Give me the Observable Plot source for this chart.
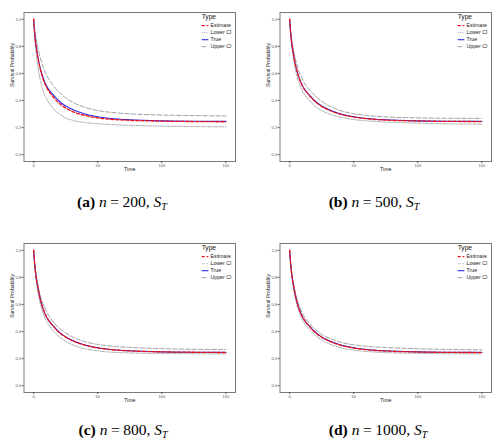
<!DOCTYPE html>
<html><head><meta charset="utf-8">
<script src="https://cdn.jsdelivr.net/npm/d3@7"></script>
<script src="https://cdn.jsdelivr.net/npm/@observablehq/plot@0.6"></script>
<style>
body{margin:0;background:#fff;}
#root{position:relative;width:497px;height:440px;overflow:hidden;background:#fff;}
.panel{position:absolute;}
.cap{position:absolute;font-family:"Liberation Serif","Times New Roman",serif;font-size:15.5px;white-space:nowrap;transform:translateX(-50%);line-height:1;color:#000;}
.cap i{font-style:italic;}
.cap .eq{margin:0 3.5px;}
.cap sub{font-size:10px;font-style:italic;vertical-align:-3px;line-height:0;}
</style></head><body><div id="root"></div>
<script>
// ---- data ----
const times = [0, 1, 2, 3, 5, 7.5, 10, 15, 20, 25, 30, 40, 50, 60, 75, 100, 125, 150];
const trueS = [1.0, 0.88, 0.80, 0.74, 0.645, 0.565, 0.51, 0.445, 0.395, 0.36, 0.335, 0.30, 0.28, 0.268, 0.258, 0.25, 0.247, 0.246];

const estA = [1.0, 0.875, 0.795, 0.735, 0.64, 0.555, 0.50, 0.43, 0.38, 0.345, 0.32, 0.29, 0.272, 0.262, 0.254, 0.248, 0.245, 0.243];
const lowA = [1.0, 0.85, 0.75, 0.67, 0.56, 0.47, 0.415, 0.345, 0.30, 0.272, 0.255, 0.238, 0.229, 0.223, 0.217, 0.211, 0.208, 0.206];
const upA  = [1.0, 0.92, 0.855, 0.805, 0.725, 0.645, 0.59, 0.515, 0.46, 0.42, 0.39, 0.35, 0.326, 0.313, 0.302, 0.293, 0.289, 0.286];

const estB = [1.0, 0.88, 0.80, 0.74, 0.645, 0.565, 0.508, 0.442, 0.392, 0.357, 0.332, 0.297, 0.278, 0.266, 0.256, 0.249, 0.246, 0.245];
const lowB = [1.0, 0.86, 0.775, 0.71, 0.607, 0.528, 0.47, 0.405, 0.358, 0.326, 0.304, 0.276, 0.26, 0.25, 0.241, 0.233, 0.228, 0.225];
const upB  = [1.0, 0.90, 0.83, 0.775, 0.69, 0.61, 0.555, 0.485, 0.435, 0.395, 0.365, 0.325, 0.303, 0.29, 0.279, 0.272, 0.269, 0.268];

const estC = [1.0, 0.882, 0.80, 0.742, 0.646, 0.566, 0.51, 0.444, 0.394, 0.359, 0.334, 0.299, 0.279, 0.267, 0.257, 0.25, 0.247, 0.245];
const lowC = [1.0, 0.865, 0.78, 0.715, 0.615, 0.535, 0.478, 0.41, 0.362, 0.328, 0.304, 0.272, 0.257, 0.248, 0.242, 0.238, 0.236, 0.235];
const upC  = [1.0, 0.895, 0.82, 0.765, 0.675, 0.60, 0.55, 0.475, 0.425, 0.39, 0.362, 0.325, 0.305, 0.293, 0.283, 0.274, 0.269, 0.267];

const estD = [1.0, 0.88, 0.80, 0.741, 0.645, 0.565, 0.509, 0.443, 0.393, 0.358, 0.333, 0.298, 0.278, 0.266, 0.256, 0.249, 0.246, 0.245];
const lowD = [1.0, 0.868, 0.785, 0.722, 0.622, 0.543, 0.487, 0.42, 0.372, 0.338, 0.313, 0.28, 0.263, 0.253, 0.245, 0.239, 0.236, 0.235];
const upD  = [1.0, 0.893, 0.815, 0.76, 0.668, 0.59, 0.535, 0.465, 0.415, 0.38, 0.355, 0.32, 0.302, 0.291, 0.282, 0.273, 0.268, 0.265];

const types = ["Estimate", "Lower CI", "True", "Upper CI"];
const xTicks = [0, 50, 100, 150];
const yTicks = [0, 0.2, 0.4, 0.6, 0.8, 1.0];
const panelsInfo = [
  {letter: "a", n: "200", est: estA, low: lowA, up: upA},
  {letter: "b", n: "500", est: estB, low: lowB, up: upB},
  {letter: "c", n: "800", est: estC, low: lowC, up: upC},
  {letter: "d", n: "1000", est: estD, low: lowD, up: upD}
];

// ---- styles ----
const STYLE = {
  "Estimate": {color: "#ee1111", width: 1.3, dash: "3,2"},
  "Lower CI": {color: "#a0a0a0", width: 1.0, dash: "1,1.4"},
  "True":     {color: "#2a2ae6", width: 1.1, dash: null},
  "Upper CI": {color: "#a0a0a0", width: 1.0, dash: "4.5,2"}
};
const drawOrder = ["Upper CI", "Lower CI", "True", "Estimate"];
const layout = [
  {left: 0, top: 0, capX: 122, capY: 194},
  {left: 255.5, top: 0, capX: 374, capY: 194},
  {left: 0, top: 231.3, capX: 123, capY: 422},
  {left: 255.5, top: 231.3, capX: 378, capY: 422}
];
const W = 240, H = 176, ML = 23.5, MR = 5, MT = 12, MB = 15;
const SANS = "'Liberation Sans', Arial, Helvetica, sans-serif";

const root = document.getElementById("root");

panelsInfo.forEach((p, k) => {
  const L = layout[k];
  const seriesMap = {"Estimate": p.est, "Lower CI": p.low, "True": trueS, "Upper CI": p.up};
  const marks = [];
  for (const tp of drawOrder) {
    const st = STYLE[tp];
    const data = times.map((t, i) => ({time: t, value: seriesMap[tp][i], type: tp}));
    marks.push(Plot.line(data, {
      x: "time", y: "value", stroke: st.color, strokeWidth: st.width,
      strokeDasharray: st.dash ?? undefined, curve: "monotone-x"
    }));
  }
  marks.push(Plot.frame({stroke: "#7a7a7a", strokeWidth: 1}));
  marks.push(Plot.axisX({ticks: xTicks, tickSize: 2, tickPadding: 1, fontSize: 4, color: "#555", label: null, tickFormat: d3.format("d")}));
  marks.push(Plot.axisY({ticks: yTicks, tickSize: 2, tickPadding: 1, fontSize: 4, color: "#555", label: null, tickFormat: d3.format(".1f")}));
  marks.push(Plot.text(["Time"], {frameAnchor: "bottom", dy: 9.5, fontSize: 5.2, fill: "#222"}));
  marks.push(Plot.text(["Survival Probability"], {frameAnchor: "left", rotate: -90, dx: -11.5, fontSize: 5.2, fill: "#222"}));

  const svg = Plot.plot({
    width: W, height: H,
    marginLeft: ML, marginRight: MR, marginTop: MT, marginBottom: MB,
    x: {domain: [-7.5, 157.5]},
    y: {domain: [-0.05, 1.05]},
    style: {fontFamily: SANS, background: "white", overflow: "visible"},
    marks
  });

  // legend inside panel (top-right)
  const fr = W - MR;
  const g = d3.select(svg).append("g").attr("font-family", SANS).attr("text-anchor", "start");
  g.append("text").attr("x", fr - 33.3).attr("y", MT + 5.3).attr("text-anchor", "start")
    .attr("dominant-baseline", "middle").attr("font-size", 6.6).attr("fill", "#111").text("Type");
  types.forEach((tp, i) => {
    const st = STYLE[tp];
    const y = MT + 13.7 + i * 7;
    g.append("line").attr("x1", fr - 33.3).attr("x2", fr - 26.6).attr("y1", y).attr("y2", y)
      .attr("stroke", st.color).attr("stroke-width", st.width)
      .attr("stroke-dasharray", st.dash ?? null);
    g.append("text").attr("x", fr - 24.4).attr("y", y).attr("text-anchor", "start")
      .attr("dominant-baseline", "middle").attr("font-size", 5.2).attr("fill", "#222").text(tp);
  });

  const div = document.createElement("div");
  div.className = "panel";
  div.style.left = L.left + "px";
  div.style.top = L.top + "px";
  div.appendChild(svg);
  root.appendChild(div);

  const cap = document.createElement("div");
  cap.className = "cap";
  cap.style.left = L.capX + "px";
  cap.style.top = L.capY + "px";
  cap.innerHTML = `<b>(${p.letter})</b> <i>n</i><span class="eq">=</span>${p.n}, <i>S</i><sub>T</sub>`;
  root.appendChild(cap);
});
</script></body></html>
